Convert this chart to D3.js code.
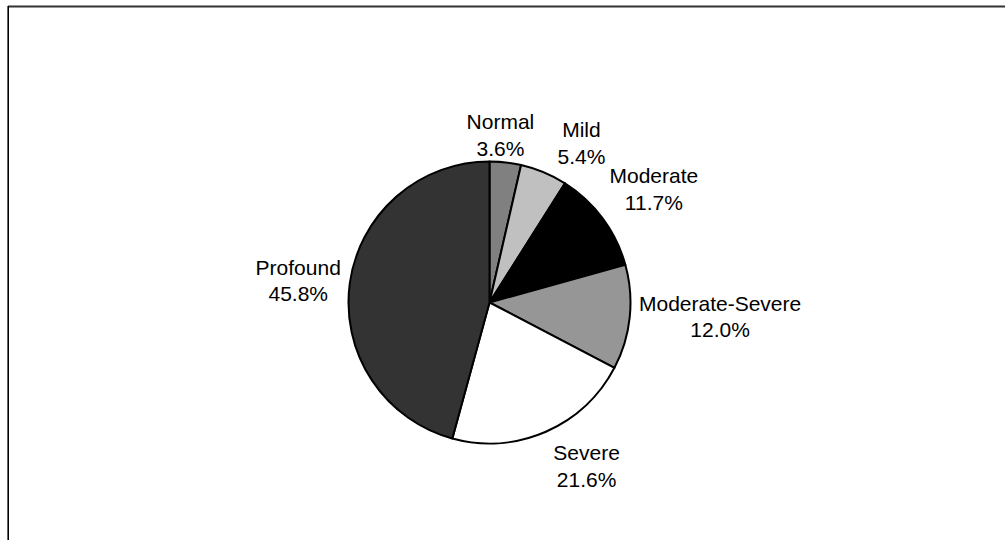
<!DOCTYPE html>
<html>
<head>
<meta charset="utf-8">
<script src="https://cdn.jsdelivr.net/npm/d3@7"></script>
<style>
  html, body { margin: 0; padding: 0; background: #fff; }
  svg { display: block; }
  text { font-family: "Liberation Sans", Arial, sans-serif; font-size: 21px; fill: #000; }
</style>
</head>
<body>
<svg id="chart" width="1005" height="540"></svg>
<script>
// Hearing-loss categories, clockwise from 12 o'clock
const categories = ["Normal", "Mild", "Moderate", "Moderate-Severe", "Severe", "Profound"];
const shares = [3.6, 5.4, 11.7, 12.0, 21.6, 45.8];
const valueLabels = ["3.6%", "5.4%", "11.7%", "12.0%", "21.6%", "45.8%"];
const fills = ["#808080", "#c0c0c0", "#000000", "#969696", "#ffffff", "#333333"];

// Layout
const W = 1005, H = 540;
const cx = 489.5, cy = 302.5, R = 141;
const labelGap = 7, lineStep = 26.5, capH = 15;
// Per-label fine placement so neighbouring labels stay clear of each other
const labelNudge = {
  "Normal": [-8.5, 4], "Mild": [24, 3], "Moderate": [7, 3.3],
  "Moderate-Severe": [1, -10], "Severe": [25, -2], "Profound": [0, 3.5]
};

const svg = d3.select("#chart");

// Plot frame (top and left edges visible)
svg.append("line").attr("x1", 8).attr("x2", W + 5).attr("y1", 6.5).attr("y2", 6.5)
  .attr("stroke", "#333").attr("stroke-width", 2);
svg.append("line").attr("x1", 8.2).attr("x2", 8.2).attr("y1", 6).attr("y2", H + 5)
  .attr("stroke", "#000").attr("stroke-width", 1.6);

const data = categories.map((c, i) => ({ name: c, value: shares[i], label: valueLabels[i], fill: fills[i] }));

const pie = d3.pie().sort(null).value(d => d.value).startAngle(0).endAngle(2 * Math.PI);
const arc = d3.arc().innerRadius(0).outerRadius(R);
const arcs = pie(data);

const g = svg.append("g").attr("transform", `translate(${cx},${cy})`);

g.selectAll("path.slice")
  .data(arcs)
  .join("path")
  .attr("class", "slice")
  .attr("d", arc)
  .attr("fill", d => d.data.fill)
  .attr("stroke", "#000")
  .attr("stroke-width", 2)
  .attr("stroke-linejoin", "round");

// Two-line labels outside each slice
const labels = g.selectAll("g.lbl")
  .data(arcs)
  .join("g")
  .attr("class", "lbl");

labels.each(function(d) {
  const grp = d3.select(this);
  const t1 = grp.append("text").attr("text-anchor", "middle").text(d.data.name);
  const t2 = grp.append("text").attr("text-anchor", "middle").text(d.data.label);
  const w = Math.max(t1.node().getComputedTextLength(), t2.node().getComputedTextLength());
  const h = capH + lineStep;
  const a = (d.startAngle + d.endAngle) / 2;
  const s = Math.sin(a), c = -Math.cos(a);
  const dist = R + labelGap + Math.abs(s) * w / 2 + Math.abs(c) * h / 2;
  const nudge = labelNudge[d.data.name] || [0, 0];
  const bx = dist * s + nudge[0];
  const by = dist * c + nudge[1];
  const base1 = by - h / 2 + capH;
  t1.attr("x", bx).attr("y", base1);
  t2.attr("x", bx).attr("y", base1 + lineStep);
});
</script>
</body>
</html>
